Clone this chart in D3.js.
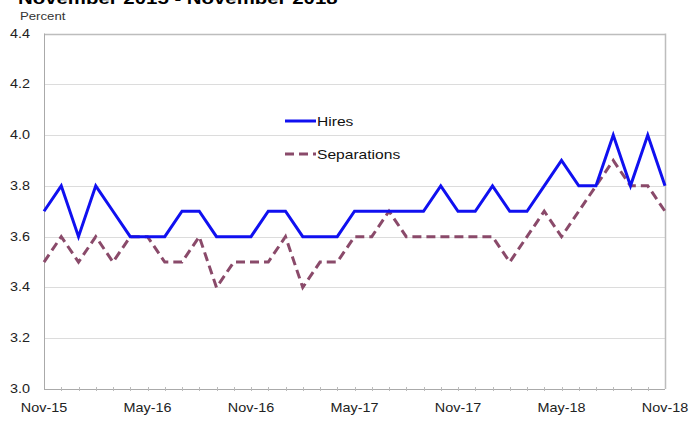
<!DOCTYPE html>
<html><head><meta charset="utf-8">
<script src="https://cdn.jsdelivr.net/npm/d3@7"></script>
<style>body{margin:0;background:#fff}svg{display:block}text{font-family:Arial,"Liberation Sans",sans-serif}</style>
</head><body>
<svg id="c" width="691" height="421"></svg>
<script>
const months = ["Nov-15","Dec-15","Jan-16","Feb-16","Mar-16","Apr-16","May-16","Jun-16","Jul-16","Aug-16","Sep-16","Oct-16","Nov-16","Dec-16","Jan-17","Feb-17","Mar-17","Apr-17","May-17","Jun-17","Jul-17","Aug-17","Sep-17","Oct-17","Nov-17","Dec-17","Jan-18","Feb-18","Mar-18","Apr-18","May-18","Jun-18","Jul-18","Aug-18","Sep-18","Oct-18","Nov-18"];
const hires = [3.7,3.8,3.6,3.8,3.7,3.6,3.6,3.6,3.7,3.7,3.6,3.6,3.6,3.7,3.7,3.6,3.6,3.6,3.7,3.7,3.7,3.7,3.7,3.8,3.7,3.7,3.8,3.7,3.7,3.8,3.9,3.8,3.8,4.0,3.8,4.0,3.8];
const separations = [3.5,3.6,3.5,3.6,3.5,3.6,3.6,3.5,3.5,3.6,3.4,3.5,3.5,3.5,3.6,3.4,3.5,3.5,3.6,3.6,3.7,3.6,3.6,3.6,3.6,3.6,3.6,3.5,3.6,3.7,3.6,3.7,3.8,3.9,3.8,3.8,3.7];
const xTickLabels = ["Nov-15","May-16","Nov-16","May-17","Nov-17","May-18","Nov-18"];
const yTicks = [3.0,3.2,3.4,3.6,3.8,4.0,4.2,4.4];
const title = "November 2015 - November 2018";

const svg = d3.select("#c");
const L = 44, R = 665, T = 33.5, B = 389;
const x = d3.scalePoint().domain(months).range([L, R]);
const y = d3.scaleLinear().domain([3.0, 4.4]).range([B, T]);
const SX = 1.2;

function stretchText(sel, px, py, anchor) {
  return sel.attr("text-anchor", anchor)
    .attr("transform", `translate(${px},${py}) scale(${SX},1)`);
}

// title (cut off at top)
stretchText(svg.append("text").text(title), 18/1, 4, "start")
  .attr("font-size", 17).attr("font-weight", "bold").attr("fill", "#000");
// unit label
stretchText(svg.append("text").text("Percent"), 20, 20, "start")
  .attr("font-size", 11).attr("fill", "#333");

// gridlines
svg.append("g").selectAll("line").data(yTicks).join("line")
  .attr("x1", L).attr("x2", R)
  .attr("y1", d => Math.round(y(d)) + 0.5).attr("y2", d => Math.round(y(d)) + 0.5)
  .attr("stroke", d => d === 4.4 ? "#bdbdbd" : "#dcdcdc").attr("stroke-width", d => d === 4.4 ? 1.5 : 1);

// right border
svg.append("line").attr("x1", R + 0.5).attr("x2", R + 0.5).attr("y1", y(4.4)).attr("y2", B)
  .attr("stroke", "#bdbdbd").attr("stroke-width", 1.5);

// y axis
svg.append("line").attr("x1", L + 0.5).attr("x2", L + 0.5).attr("y1", y(4.4)).attr("y2", B)
  .attr("stroke", "#aaa");
svg.append("g").selectAll("text").data(yTicks).join("text")
  .each(function(d){ stretchText(d3.select(this), 30, y(d) + 4, "end"); })
  .attr("font-size", 12).attr("fill", "#222")
  .text(d => d.toFixed(1));

// x axis
svg.append("line").attr("x1", L).attr("x2", R).attr("y1", B + 0.5).attr("y2", B + 0.5)
  .attr("stroke", "#aaa");
svg.append("g").selectAll("line").data(months.slice(1, -1)).join("line")
  .attr("x1", d => Math.round(x(d)) + 0.5).attr("x2", d => Math.round(x(d)) + 0.5)
  .attr("y1", B - 2).attr("y2", B + 2).attr("stroke", "#bbb");
svg.append("g").selectAll("text").data(xTickLabels).join("text")
  .each(function(d){ stretchText(d3.select(this), x(d), B + 23, "middle"); })
  .attr("font-size", 12).attr("fill", "#222")
  .text(d => d);

// lines
const line = d3.line().x((d, i) => x(months[i])).y(d => y(d));
svg.append("path").datum(separations).attr("d", line)
  .attr("fill", "none").attr("stroke", "#8a4a6a").attr("stroke-width", 3)
  .attr("stroke-dasharray", "9,5");
svg.append("path").datum(hires).attr("d", line)
  .attr("fill", "none").attr("stroke", "#1010f0").attr("stroke-width", 3);

// legend
const lg = svg.append("g");
lg.append("line").attr("x1", 285).attr("x2", 316).attr("y1", 121).attr("y2", 121)
  .attr("stroke", "#1010f0").attr("stroke-width", 3);
stretchText(lg.append("text").text("Hires"), 317, 126, "start").attr("font-size", 13).attr("fill", "#111");
lg.append("line").attr("x1", 285).attr("x2", 316).attr("y1", 154).attr("y2", 154)
  .attr("stroke", "#8a4a6a").attr("stroke-width", 3).attr("stroke-dasharray", "9,5");
stretchText(lg.append("text").text("Separations"), 317, 159, "start").attr("font-size", 13).attr("fill", "#111");
</script>
</body></html>
